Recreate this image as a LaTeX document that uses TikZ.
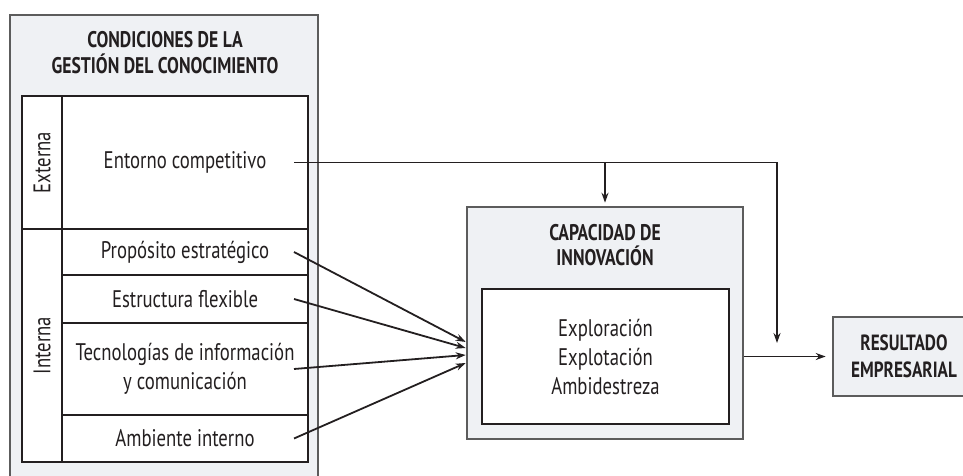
\documentclass[tikz,border=0pt]{standalone}
\usepackage{fontspec}
\setmainfont{PT Sans}[FakeStretch=0.78]
\usepackage{xcolor}
\usepackage{tikz}
\usetikzlibrary{arrows.meta,shapes,backgrounds,fit}

\definecolor{panel}{HTML}{EFF1F4}
\definecolor{edge}{HTML}{5C5C5C}
\definecolor{ink}{HTML}{231F20}

\begin{document}
\begin{tikzpicture}[x=0.5pt,y=-0.5pt]
		\tikzstyle{frame}=[draw=edge, line width=1.3pt, fill=panel, inner sep=0pt]
		\tikzstyle{cell}=[draw=ink, line width=1pt, fill=white, inner sep=0pt, align=center, text=ink, font=\fontsize{12}{14.5}\selectfont]
		\tikzstyle{cell_row}=[cell, minimum width=123pt]
		\tikzstyle{cell_side}=[cell, rotate=90, minimum height=20pt]
		\tikzstyle{title_text}=[text=ink, align=center, font=\bfseries\fontsize{11.3}{12.8}\selectfont]
		\tikzstyle{link}=[draw=ink, line width=0.9pt]
		\tikzstyle{arrow}=[link, -{Stealth[length=5pt,width=3.5pt]}]

		\useasboundingbox (0,0) rectangle (963,476);

		% condiciones
		\node (condiciones) [frame, minimum width=154pt, minimum height=235pt] at (164,250) {};
		\node (condiciones_text) [title_text] at (165,52.5) {CONDICIONES DE LA\\GESTIÓN DEL CONOCIMIENTO};

		\node (externa) [cell_side, minimum width=66.5pt] at (42,162.5) {Externa};
		\node (interna) [cell_side, minimum width=116.5pt] at (42,345.5) {Interna};

		\node (entorno) [cell_row, minimum height=66.5pt] at (185,162.5) {Entorno competitivo};
		\node (proposito) [cell_row, minimum height=23pt] at (185,252) {Propósito estratégico};
		\node (estructura) [cell_row, minimum height=24pt] at (185,299) {Estructura flexible};
		\node (tecnologias) [cell_row, minimum height=46pt] at (185,369) {Tecnologías de información\\y comunicación};
		\node (ambiente) [cell_row, minimum height=23.5pt] at (185,438.5) {Ambiente interno};

		% capacidad
		\node (capacidad) [frame, minimum width=138pt, minimum height=116pt] at (605,323) {};
		\node (capacidad_text) [title_text] at (605,245) {CAPACIDAD DE\\INNOVACIÓN};
		\node (procesos) [cell, minimum width=123.5pt, minimum height=67.5pt] at (605.5,356.5) {Exploración\\Explotación\\Ambidestreza};

		% resultado
		\node (resultado) [frame, minimum width=71pt, minimum height=39.5pt, title_text, font=\bfseries\fontsize{11}{13.5}\selectfont] at (904,356.5) {RESULTADO\\EMPRESARIAL};

		\coordinate (split) at (605,162.5);
		\coordinate (turn) at (777,162.5);
		\coordinate (drop) at (777,343);

	\draw [arrow] ([xshift=-7.5pt]entorno.east) -- (turn) -- (drop);
	\draw [arrow, shorten >=1.5pt] (split) -- (capacidad.north);

	\draw [arrow] ([xshift=-7.5pt]proposito.east) -- ([yshift=-9.5pt]capacidad.west);
	\draw [arrow] ([xshift=-7.5pt]estructura.east) -- ([yshift=-12.5pt]capacidad.west);
	\draw [arrow] ([xshift=-7.5pt]tecnologias.east) -- ([yshift=-16pt]capacidad.west);
	\draw [arrow] ([xshift=-7.5pt]ambiente.east) -- ([yshift=-20pt]capacidad.west);

	\draw [arrow] (capacidad.east |- resultado.west) -- ([xshift=-3pt]resultado.west);

\end{tikzpicture}
\end{document}
